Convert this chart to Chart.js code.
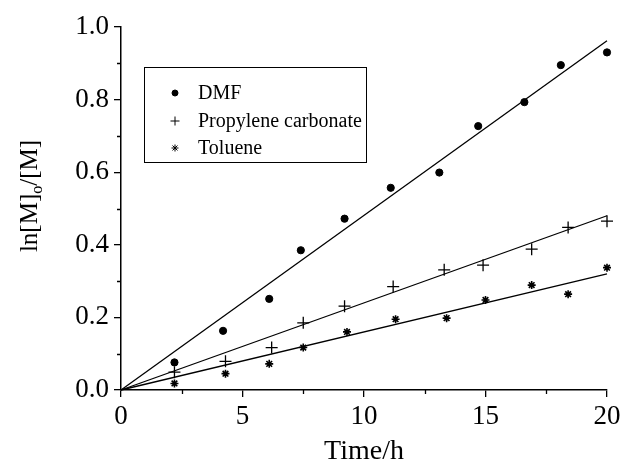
<!DOCTYPE html>
<html>
<head>
<meta charset="utf-8">
<script src="https://cdn.jsdelivr.net/npm/chart.js@4/dist/chart.umd.min.js"></script>
<style>
  html, body { margin: 0; padding: 0; background: #fff; }
  #wrap { width: 625px; height: 466px; }
</style>
</head>
<body>
<div id="wrap"><canvas id="chart"></canvas></div>
<script>
// values
const seriesNames = ["DMF", "Propylene carbonate", "Toluene"]
const dmfTime = [2.2, 4.2, 6.1, 7.4, 9.2, 11.1, 13.1, 14.7, 16.6, 18.1, 20.0]
const dmfValue = [0.076, 0.163, 0.251, 0.385, 0.472, 0.557, 0.599, 0.727, 0.793, 0.895, 0.930]
const pcTime = [2.2, 4.3, 6.2, 7.5, 9.2, 11.2, 13.3, 14.9, 16.9, 18.4, 20.0]
const pcValue = [0.049, 0.079, 0.117, 0.185, 0.231, 0.285, 0.331, 0.344, 0.388, 0.448, 0.465]
const tolTime = [2.2, 4.3, 6.1, 7.5, 9.3, 11.3, 13.4, 15.0, 16.9, 18.4, 20.0]
const tolValue = [0.018, 0.045, 0.072, 0.117, 0.160, 0.195, 0.198, 0.248, 0.289, 0.264, 0.337]
// linear fits through the origin: value at t = 0 and t = 20
const fitTime = [0, 20]
const dmfFit = [0, 0.962]
const pcFit = [0, 0.480]
const tolFit = [0, 0.320]

const xTicks = [0, 5, 10, 15, 20]
const yTicks = [0, 0.2, 0.4, 0.6, 0.8, 1.0]

const pairs = (xs, ys) => xs.map((x, i) => ({ x: x, y: ys[i] }))
const serif = "'Liberation Serif', 'DejaVu Serif', serif"

const markers = [
  { pointStyle: 'circle', radius: 3.6, borderWidth: 1, legendRadius: 3 },
  { pointStyle: 'cross', radius: 6, borderWidth: 1.3, legendRadius: 4.5 },
  { pointStyle: 'star', radius: 4, borderWidth: 1.6, legendRadius: 3.5 }
]

const pointSet = (label, xs, ys, m) => ({
  label: label,
  data: pairs(xs, ys),
  showLine: false,
  clip: false,
  pointStyle: m.pointStyle,
  pointRadius: m.radius,
  pointBorderWidth: m.borderWidth,
  pointBackgroundColor: '#000',
  pointBorderColor: '#000'
})
const fitSet = (ys) => ({
  label: 'fit',
  data: pairs(fitTime, ys),
  showLine: true,
  clip: false,
  borderColor: '#000',
  borderWidth: 1.3,
  pointRadius: 0
})

// minor ticks (half steps), y-title with subscript and boxed legend
const extras = {
  id: 'extras',
  afterDraw(chart) {
    const ctx = chart.ctx
    const xs = chart.scales.x, ys = chart.scales.y
    ctx.save()
    ctx.strokeStyle = '#000'
    ctx.lineWidth = 1.3
    ctx.beginPath()
    for (let v = 0.1; v < 1; v += 0.2) {
      const py = Math.round(ys.getPixelForValue(v)) + 0.5
      ctx.moveTo(xs.left - 4, py); ctx.lineTo(xs.left, py)
    }
    for (let v = 2.5; v < 20; v += 5) {
      const px = Math.round(xs.getPixelForValue(v)) + 0.5
      ctx.moveTo(px, ys.bottom); ctx.lineTo(px, ys.bottom + 4)
    }
    ctx.stroke()

    // y axis title: ln[M]o/[M]
    ctx.translate(30, 196)
    ctx.rotate(-Math.PI / 2)
    ctx.fillStyle = '#000'
    ctx.textBaseline = 'middle'
    const big = '25px ' + serif, small = '16px ' + serif
    const parts = [['ln[M]', big, 0], ['o', small, 8], ['/[M]', big, 0]]
    let total = 0
    parts.forEach(p => { ctx.font = p[1]; total += ctx.measureText(p[0]).width })
    let x = -total / 2
    parts.forEach(p => {
      ctx.font = p[1]
      ctx.fillText(p[0], x, p[2])
      x += ctx.measureText(p[0]).width
    })
    ctx.restore()

    // legend
    ctx.save()
    ctx.strokeStyle = '#000'
    ctx.lineWidth = 1
    ctx.strokeRect(144.5, 67.5, 222, 95)
    ctx.font = '20px ' + serif
    ctx.fillStyle = '#000'
    ctx.textBaseline = 'middle'
    const rows = [93, 121, 148]
    seriesNames.forEach((name, i) => {
      const m = markers[i]
      Chart.helpers.drawPoint(ctx, { pointStyle: m.pointStyle, radius: m.legendRadius, borderWidth: m.borderWidth, rotation: 0 }, 175, rows[i])
      ctx.fillText(name, 198, rows[i] + 1)
    })
    ctx.restore()
  }
}

const ctx = document.getElementById('chart')
new Chart(ctx, {
  type: 'scatter',
  data: {
    datasets: [
      pointSet(seriesNames[0], dmfTime, dmfValue, markers[0]),
      pointSet(seriesNames[1], pcTime, pcValue, markers[1]),
      pointSet(seriesNames[2], tolTime, tolValue, markers[2]),
      fitSet(dmfFit),
      fitSet(pcFit),
      fitSet(tolFit)
    ]
  },
  options: {
    responsive: true,
    maintainAspectRatio: false,
    animation: false,
    layout: { padding: { top: 27, right: 18, bottom: 0, left: 0 } },
    plugins: {
      legend: { display: false },
      tooltip: { enabled: false }
    },
    scales: {
      x: {
        type: 'linear',
        min: 0,
        max: 20,
        afterBuildTicks: (s) => { s.ticks = xTicks.map(v => ({ value: v })) },
        afterFit: (s) => { s.height = 76 },
        grid: { drawOnChartArea: false, tickLength: 7, color: '#000', lineWidth: 1.3 },
        border: { color: '#000', width: 1.5 },
        ticks: { color: '#000', padding: 4, font: { family: serif, size: 27 } },
        title: {
          display: true,
          text: 'Time/h',
          color: '#000',
          padding: 0,
          font: { family: serif, size: 28, lineHeight: 1 }
        }
      },
      y: {
        type: 'linear',
        min: 0,
        max: 1,
        afterBuildTicks: (s) => { s.ticks = yTicks.map(v => ({ value: v })) },
        afterFit: (s) => { s.width = 121 },
        grid: { drawOnChartArea: false, tickLength: 7, color: '#000', lineWidth: 1.3 },
        border: { color: '#000', width: 1.5 },
        ticks: {
          color: '#000',
          padding: 5,
          font: { family: serif, size: 27 },
          callback: (v) => v.toFixed(1)
        }
      }
    }
  },
  plugins: [extras]
})
</script>
</body>
</html>
